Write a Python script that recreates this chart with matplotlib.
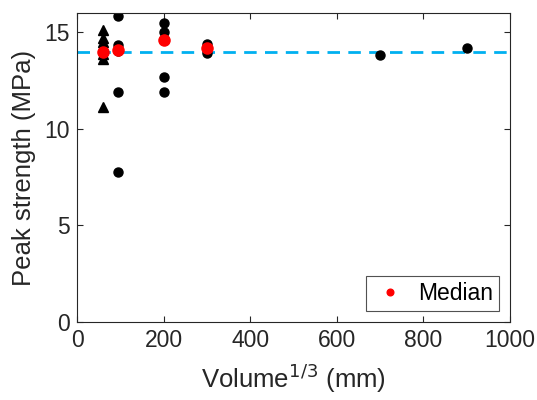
import numpy as np
import matplotlib.pyplot as plt

plt.rcParams["font.family"] = ["Liberation Sans", "DejaVu Sans"]

# triangles (small specimens)
tri_x = [60, 60, 60, 60, 60, 60, 60]
tri_y = [15.13, 14.7, 14.5, 14.25, 13.9, 13.6, 11.14]

# circles
circ_x = [95, 95, 95, 95, 95, 200, 200, 200, 200, 200, 300, 300, 300, 700, 900]
circ_y = [15.87, 14.35, 14.05, 11.9, 7.77, 15.5, 15.0, 14.6, 12.7, 11.9, 14.4, 14.2, 13.95, 13.8, 14.2]

# medians
med_x = [60, 95, 200, 300]
med_y = [14.0, 14.1, 14.6, 14.2]

ref_level = 14.0

fig = plt.figure(figsize=(5.37, 4.0), dpi=100)
ax = fig.add_axes([0.1434, 0.195, 0.8063, 0.7725])

ax.axhline(ref_level, color="#00B0F0", linestyle=(0, (4.5, 3)), linewidth=2.0, zorder=1)
ax.plot(tri_x, tri_y, "^", color="black", markersize=6.5, zorder=2)
ax.plot(circ_x, circ_y, "o", color="black", markersize=6.5, zorder=2)
ax.plot(med_x, med_y, "o", color="red", markersize=8, zorder=3, label="Median")

ax.set_xlim(0, 1000)
ax.set_ylim(0, 16)
ax.set_xticks(np.arange(0, 1001, 200))
ax.set_yticks([0, 5, 10, 15])
ax.tick_params(direction="in", top=True, right=True, labelsize=16.5, colors="#262626", length=4, width=0.8, pad=5)
for s in ax.spines.values():
    s.set_color("#262626")
    s.set_linewidth(0.8)

ax.set_xlabel("Volume$^{1/3}$ (mm)", fontsize=18.5, color="#262626", labelpad=7)
ax.set_ylabel("Peak strength (MPa)", fontsize=18.5, color="#262626", labelpad=6)

leg = ax.legend(loc="lower right", fontsize=16.5, markerscale=0.6, fancybox=False,
                edgecolor="#262626", handletextpad=0.4, borderpad=0.25, handlelength=1.6,
                borderaxespad=0.5, labelcolor="black")
leg.get_frame().set_linewidth(0.8)

fig.savefig("out.png", dpi=100)
